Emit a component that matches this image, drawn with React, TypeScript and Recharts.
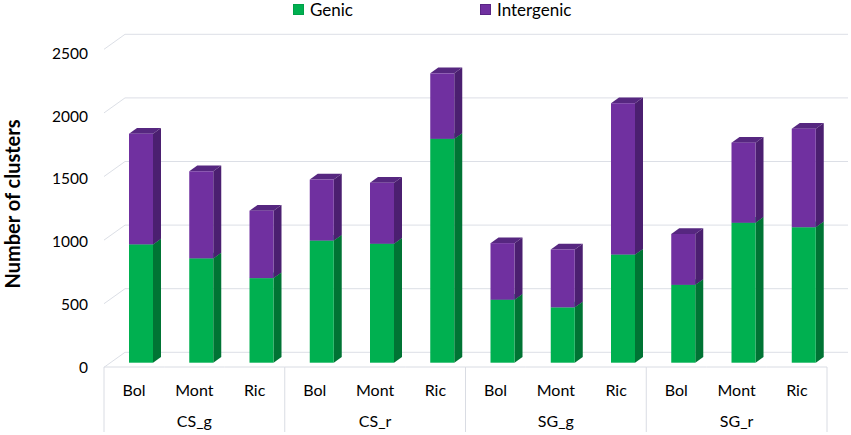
import { BarChart, Bar, XAxis, YAxis, CartesianGrid } from "recharts";

const cultivars = ["Bol", "Mont", "Ric"];
const groups = ["CS_g", "CS_r", "SG_g", "SG_r"];
const genic = [930, 820, 665, 960, 935, 1760, 495, 435, 850, 612, 1100, 1065];
const intergenic = [870, 685, 530, 480, 480, 515, 445, 455, 1190, 400, 630, 775];
const yTicks = [0, 500, 1000, 1500, 2000, 2500];

const data = genic.map((g, i) => ({
  key: i,
  name: cultivars[i % 3],
  group: groups[Math.floor(i / 3)],
  genic: g,
  intergenic: intergenic[i],
}));

const FONT = "Lato, 'Open Sans', sans-serif";
const GRID = "#dcdfe6";
const AXIS = "#d9dce3";
// depth shift from back wall to front edge of floor
const WALL_DX = -21;
const BAND = (848 - 125) / 12;

function make3D(front: string, side: string, top: string) {
  return (props: any) => {
    const { x, y, width, height } = props;
    if (!height || height <= 0) return <g />;
    const fx = x - 14;
    const fy = y + 10.4;
    const d = 8;
    const dy = 5.7;
    return (
      <g>
        <polygon
          points={`${fx},${fy} ${fx + d},${fy - dy} ${fx + width + d},${fy - dy} ${fx + width},${fy}`}
          fill={top}
        />
        <polygon
          points={`${fx + width},${fy} ${fx + width + d},${fy - dy} ${fx + width + d},${fy + height - dy} ${fx + width},${fy + height}`}
          fill={side}
        />
        <rect x={fx} y={fy} width={width} height={height} fill={front} />
      </g>
    );
  };
}

const GenicShape = make3D("#00b050", "#007434", "#00c45a");
const InterShape = make3D("#7030a0", "#4b1f70", "#562780");

function YTick(props: any) {
  const { x, y, payload } = props;
  const v = payload.value;
  const fy = y + 14.4 + v * 0.0016;
  return (
    <g>
      <line x1={104} y1={y + 15} x2={125} y2={y} stroke={GRID} strokeWidth={1} />
      <text
        x={88}
        y={fy}
        textAnchor="end"
        dominantBaseline="central"
        fontSize={15.5}
        fontFamily={FONT}
        fill="#000"
      >
        {v}
      </text>
    </g>
  );
}

function CatTick(props: any) {
  const { x, payload } = props;
  const cx = x + WALL_DX;
  return (
    <g>
      <line x1={cx - BAND / 2} y1={367} x2={cx + BAND / 2} y2={367} stroke={AXIS} />
      <text
        x={cx}
        y={389.5}
        textAnchor="middle"
        dominantBaseline="central"
        fontSize={16}
        fontFamily={FONT}
        fill="#000"
      >
        {cultivars[payload.index % 3] ?? payload.value}
      </text>
    </g>
  );
}

function GroupTick(props: any) {
  const { x, index } = props;
  const cx = x + WALL_DX;
  const pos = index % 3;
  return (
    <g>
      {pos === 0 && (
        <line x1={cx - BAND / 2} y1={367} x2={cx - BAND / 2} y2={432} stroke={AXIS} />
      )}
      {index === data.length - 1 && (
        <line x1={cx + BAND / 2} y1={367} x2={cx + BAND / 2} y2={432} stroke={AXIS} />
      )}
      {pos === 1 && (
        <text
          x={cx}
          y={420}
          textAnchor="middle"
          dominantBaseline="central"
          fontSize={16}
          fontFamily={FONT}
          fill="#000"
        >
          {data[index].group}
        </text>
      )}
    </g>
  );
}

function Legend3D() {
  const items = [
    { label: "Genic", color: "#00b050", border: "#00a048", left: 293 },
    { label: "Intergenic", color: "#7030a0", border: "#5a2585", left: 480 },
  ];
  return (
    <>
      {items.map((it) => (
        <div
          key={it.label}
          style={{
            position: "absolute",
            left: it.left,
            top: 0,
            height: 19,
            display: "flex",
            alignItems: "center",
            fontFamily: FONT,
            fontSize: 17,
            color: "#000",
          }}
        >
          <span
            style={{
              display: "inline-block",
              width: 9,
              height: 9,
              background: it.color,
              border: `1px solid ${it.border}`,
              marginRight: 6,
            }}
          />
          {it.label}
        </div>
      ))}
    </>
  );
}

export default function App() {
  return (
    <div
      style={{
        position: "absolute",
        left: 0,
        top: 0,
        width: 851,
        height: 435,
        background: "#fff",
      }}
    >
      <BarChart
        width={851}
        height={435}
        data={data}
        margin={{ top: 34.3, right: 3, left: 85, bottom: 22.7 }}
      >
        <CartesianGrid vertical={false} stroke={GRID} />
        <XAxis
          dataKey="key"
          type="category"
          height={30}
          axisLine={false}
          tickLine={false}
          interval={0}
          tick={<CatTick />}
        />
        <XAxis
          xAxisId="group"
          dataKey="key"
          type="category"
          height={30}
          axisLine={false}
          tickLine={false}
          interval={0}
          tick={<GroupTick />}
        />
        <YAxis
          width={40}
          domain={[0, 2500]}
          ticks={yTicks}
          axisLine={false}
          tickLine={false}
          tick={<YTick />}
          label={{
            content: () => (
              <text
                x={12}
                y={204}
                transform="rotate(-90 12 204)"
                textAnchor="middle"
                dominantBaseline="central"
                fontSize={20}
                fontWeight="bold"
                fontFamily={FONT}
                fill="#000"
              >
                Number of clusters
              </text>
            ),
          }}
        />
        <Bar
          dataKey="genic"
          stackId="a"
          barSize={24}
          shape={GenicShape}
          isAnimationActive={false}
        />
        <Bar
          dataKey="intergenic"
          stackId="a"
          barSize={24}
          shape={InterShape}
          isAnimationActive={false}
        />
      </BarChart>
      <Legend3D />
    </div>
  );
}
